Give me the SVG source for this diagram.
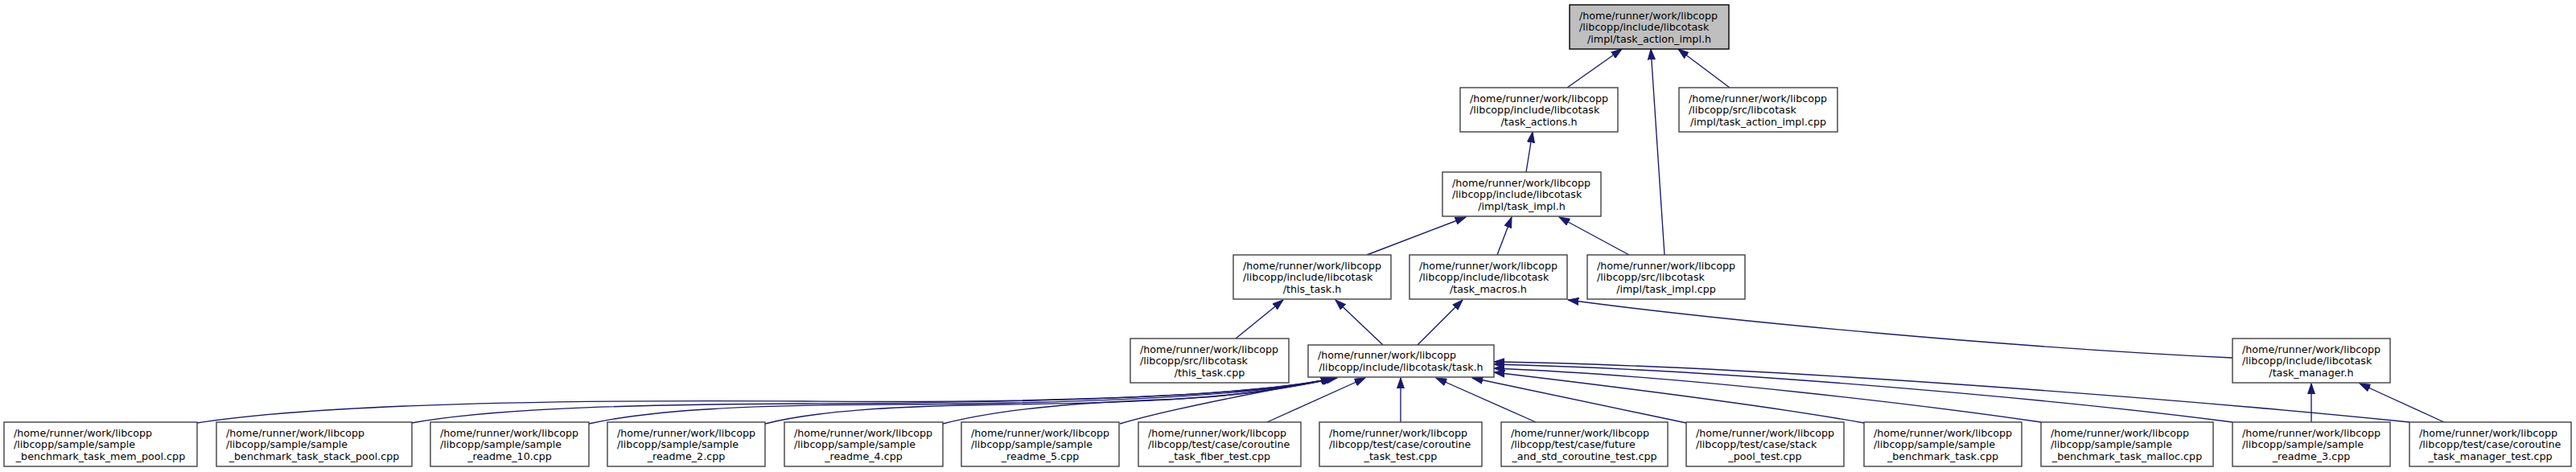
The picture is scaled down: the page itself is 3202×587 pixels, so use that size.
<svg xmlns="http://www.w3.org/2000/svg" width="3202" height="587" viewBox="0 0 3202 587">
<style>
.bg{fill:#ffffff}
.node rect{fill:#ffffff;stroke:#404040;stroke-width:1.4}
.node rect.hl{fill:#bfbfbf;stroke:#000000}
.node text{font-family:"DejaVu Sans","Liberation Sans",sans-serif;font-size:12.7px;fill:#000000}
.node text.c{text-anchor:middle}
.edges path{fill:none;stroke:#191970;stroke-width:1.35;marker-end:url(#ah)}
</style>
<defs>
<marker id="ah" markerUnits="userSpaceOnUse" viewBox="0 0 14 10" markerWidth="14" markerHeight="10" refX="13.3" refY="5" orient="auto">
<path d="M0,0.4 L13.3,5 L0,9.6 z" fill="#191970" stroke="#191970" stroke-width="1"/>
</marker>
</defs>
<rect class="bg" x="0" y="0" width="3202" height="587"/>
<g class="edges" id="edges">
<path d="M1948,109 L2016,61"/>
<path d="M2069,317 L2052,61"/>
<path d="M2150,109 L2086,61"/>
<path d="M1897,214 L1905,164"/>
<path d="M1699,317 L1822,270"/>
<path d="M1861,317 L1879,270"/>
<path d="M2025,317 L1938,270"/>
<path d="M1536,421 L1595,373"/>
<path d="M1719,429 L1660,373"/>
<path d="M1762,429 L1818,373"/>
<path d="M2775,445 C2500,432 2150,400 1949,373"/>
<path d="M2873,525 L2873,477"/>
<path d="M3038,525 L2933,477"/>
<path d="M245,526 C400,502 700,497 1000,499 S1540,494 1655,471"/>
<path d="M512,526 C600,510 750,503 1000,502 S1540,495 1656,471"/>
<path d="M732,527 C800,512 900,504 1100,503 S1545,496 1657,471"/>
<path d="M951,527 C1010,512 1100,505 1250,503 S1550,497 1658,470"/>
<path d="M1172,527 C1230,512 1320,502 1420,498 S1560,490 1660,470"/>
<path d="M1392,527 C1450,510 1550,490 1662,470"/>
<path d="M1575,525 L1697,470"/>
<path d="M1741,525 L1741,470"/>
<path d="M1909,525 L1785,470"/>
<path d="M2096,526 L1830,470"/>
<path d="M2317,526 C2200,505 2000,480 1857,463"/>
<path d="M2537,525 C2400,505 2100,468 1857,458"/>
<path d="M2775,525 C2560,497 2150,460 1857,453"/>
<path d="M2995,525 C2750,500 2200,455 1857,450"/>
</g>
<g class="node" id="n_task_action_impl_h"><rect class="hl" x="1951" y="6" width="198" height="55"/><text x="1963" y="23.5">/home/runner/work/libcopp</text><text x="1963" y="38">/libcopp/include/libcotask</text><text class="c" x="2050" y="52.5">/impl/task_action_impl.h</text></g>
<g class="node" id="n_task_actions_h"><rect x="1815" y="109" width="196" height="55"/><text x="1827" y="126.5">/home/runner/work/libcopp</text><text x="1827" y="141">/libcopp/include/libcotask</text><text class="c" x="1913" y="155.5">/task_actions.h</text></g>
<g class="node" id="n_task_action_impl_cpp"><rect x="2087" y="109" width="197" height="55"/><text x="2099" y="126.5">/home/runner/work/libcopp</text><text x="2099" y="141">/libcopp/src/libcotask</text><text class="c" x="2185.5" y="155.5">/impl/task_action_impl.cpp</text></g>
<g class="node" id="n_task_impl_h"><rect x="1793" y="214" width="197" height="55"/><text x="1805" y="231.5">/home/runner/work/libcopp</text><text x="1805" y="246">/libcopp/include/libcotask</text><text class="c" x="1891.5" y="260.5">/impl/task_impl.h</text></g>
<g class="node" id="n_this_task_h"><rect x="1533" y="317" width="196" height="55"/><text x="1545" y="334.5">/home/runner/work/libcopp</text><text x="1545" y="349">/libcopp/include/libcotask</text><text class="c" x="1631" y="363.5">/this_task.h</text></g>
<g class="node" id="n_task_macros_h"><rect x="1752" y="317" width="196" height="55"/><text x="1764" y="334.5">/home/runner/work/libcopp</text><text x="1764" y="349">/libcopp/include/libcotask</text><text class="c" x="1850" y="363.5">/task_macros.h</text></g>
<g class="node" id="n_task_impl_cpp"><rect x="1973" y="317" width="196" height="55"/><text x="1985" y="334.5">/home/runner/work/libcopp</text><text x="1985" y="349">/libcopp/src/libcotask</text><text class="c" x="2071" y="363.5">/impl/task_impl.cpp</text></g>
<g class="node" id="n_this_task_cpp"><rect x="1405" y="421" width="197" height="55"/><text x="1417" y="438.5">/home/runner/work/libcopp</text><text x="1417" y="453">/libcopp/src/libcotask</text><text class="c" x="1503.5" y="467.5">/this_task.cpp</text></g>
<g class="node" id="n_task_h"><rect x="1626" y="429" width="231" height="40"/><text x="1638" y="446.3">/home/runner/work/libcopp</text><text class="c" x="1741.5" y="460.8">/libcopp/include/libcotask/task.h</text></g>
<g class="node" id="n_task_manager_h"><rect x="2775" y="421" width="196" height="55"/><text x="2787" y="438.5">/home/runner/work/libcopp</text><text x="2787" y="453">/libcopp/include/libcotask</text><text class="c" x="2873" y="467.5">/task_manager.h</text></g>
<g class="node" id="n_mem_pool"><rect x="5" y="525" width="240" height="55"/><text x="17" y="542.5">/home/runner/work/libcopp</text><text x="17" y="557">/libcopp/sample/sample</text><text class="c" x="125" y="571.5">_benchmark_task_mem_pool.cpp</text></g>
<g class="node" id="n_stack_pool"><rect x="269" y="525" width="243" height="55"/><text x="281" y="542.5">/home/runner/work/libcopp</text><text x="281" y="557">/libcopp/sample/sample</text><text class="c" x="390.5" y="571.5">_benchmark_task_stack_pool.cpp</text></g>
<g class="node" id="n_readme_10"><rect x="535" y="525" width="197" height="55"/><text x="547" y="542.5">/home/runner/work/libcopp</text><text x="547" y="557">/libcopp/sample/sample</text><text class="c" x="633.5" y="571.5">_readme_10.cpp</text></g>
<g class="node" id="n_readme_2"><rect x="755" y="525" width="196" height="55"/><text x="767" y="542.5">/home/runner/work/libcopp</text><text x="767" y="557">/libcopp/sample/sample</text><text class="c" x="853" y="571.5">_readme_2.cpp</text></g>
<g class="node" id="n_readme_4"><rect x="975" y="525" width="197" height="55"/><text x="987" y="542.5">/home/runner/work/libcopp</text><text x="987" y="557">/libcopp/sample/sample</text><text class="c" x="1073.5" y="571.5">_readme_4.cpp</text></g>
<g class="node" id="n_readme_5"><rect x="1195" y="525" width="196" height="55"/><text x="1207" y="542.5">/home/runner/work/libcopp</text><text x="1207" y="557">/libcopp/sample/sample</text><text class="c" x="1293" y="571.5">_readme_5.cpp</text></g>
<g class="node" id="n_fiber_test"><rect x="1415" y="525" width="202" height="55"/><text x="1427" y="542.5">/home/runner/work/libcopp</text><text x="1427" y="557">/libcopp/test/case/coroutine</text><text class="c" x="1516" y="571.5">_task_fiber_test.cpp</text></g>
<g class="node" id="n_task_test"><rect x="1640" y="525" width="202" height="55"/><text x="1652" y="542.5">/home/runner/work/libcopp</text><text x="1652" y="557">/libcopp/test/case/coroutine</text><text class="c" x="1741" y="571.5">_task_test.cpp</text></g>
<g class="node" id="n_future_test"><rect x="1866" y="525" width="207" height="55"/><text x="1878" y="542.5">/home/runner/work/libcopp</text><text x="1878" y="557">/libcopp/test/case/future</text><text class="c" x="1969.5" y="571.5">_and_std_coroutine_test.cpp</text></g>
<g class="node" id="n_stack_pool_test"><rect x="2096" y="525" width="196" height="55"/><text x="2108" y="542.5">/home/runner/work/libcopp</text><text x="2108" y="557">/libcopp/test/case/stack</text><text class="c" x="2194" y="571.5">_pool_test.cpp</text></g>
<g class="node" id="n_benchmark_task"><rect x="2317" y="525" width="196" height="55"/><text x="2329" y="542.5">/home/runner/work/libcopp</text><text x="2329" y="557">/libcopp/sample/sample</text><text class="c" x="2415" y="571.5">_benchmark_task.cpp</text></g>
<g class="node" id="n_benchmark_malloc"><rect x="2537" y="525" width="214" height="55"/><text x="2549" y="542.5">/home/runner/work/libcopp</text><text x="2549" y="557">/libcopp/sample/sample</text><text class="c" x="2644" y="571.5">_benchmark_task_malloc.cpp</text></g>
<g class="node" id="n_readme_3"><rect x="2775" y="525" width="196" height="55"/><text x="2787" y="542.5">/home/runner/work/libcopp</text><text x="2787" y="557">/libcopp/sample/sample</text><text class="c" x="2873" y="571.5">_readme_3.cpp</text></g>
<g class="node" id="n_task_manager_test"><rect x="2995" y="525" width="201" height="55"/><text x="3007" y="542.5">/home/runner/work/libcopp</text><text x="3007" y="557">/libcopp/test/case/coroutine</text><text class="c" x="3095.5" y="571.5">_task_manager_test.cpp</text></g>
</svg>
